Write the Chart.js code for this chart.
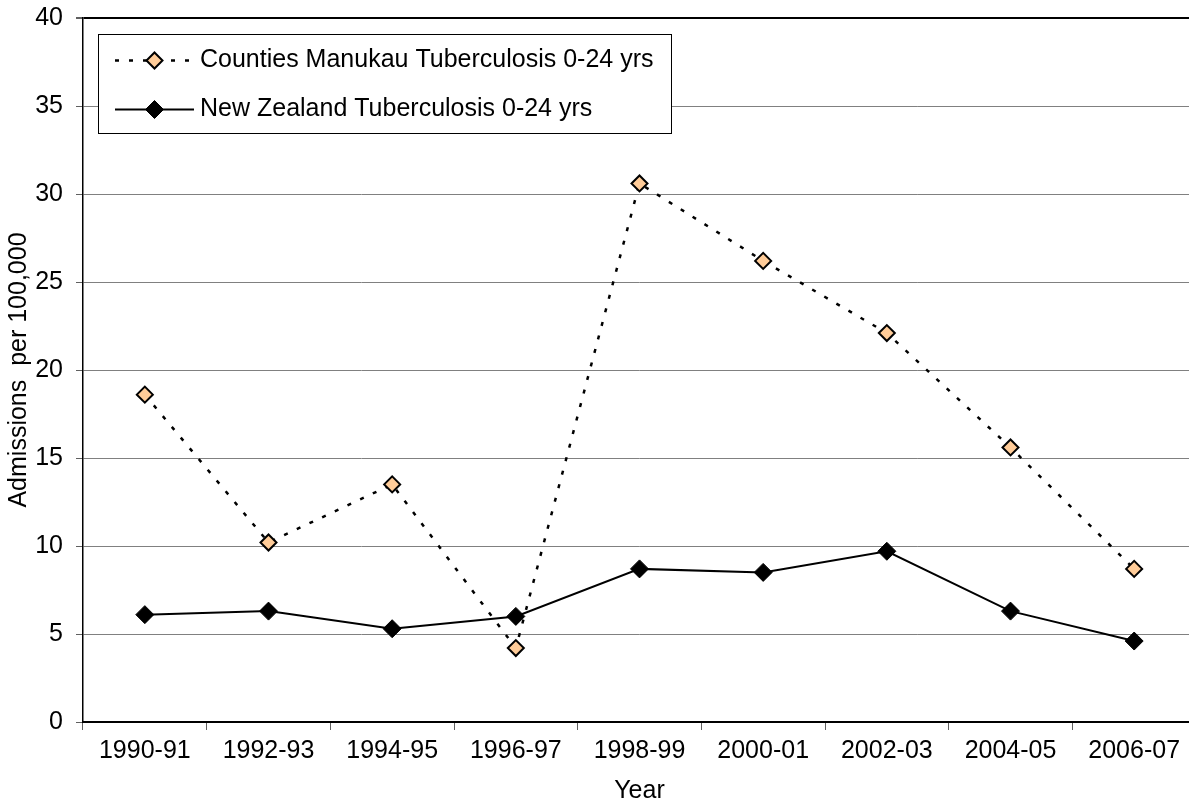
<!DOCTYPE html>
<html>
<head>
<meta charset="utf-8">
<script src="https://cdn.jsdelivr.net/npm/chart.js@4/dist/chart.umd.min.js"></script>
<style>
html, body { margin: 0; padding: 0; overflow: hidden; background: #fff; width: 1189px; height: 802px; }
#wrap { position: absolute; left: 0; top: 0; width: 1200px; height: 810px; }
</style>
</head>
<body>
<div id="wrap"><canvas id="c" width="1200" height="810"></canvas></div>
<script>
const categories = ['1990-91', '1992-93', '1994-95', '1996-97', '1998-99', '2000-01', '2002-03', '2004-05', '2006-07'];
const countiesManukau = [18.6, 10.2, 13.5, 4.2, 30.6, 26.2, 22.1, 15.6, 8.7];
const newZealand = [6.1, 6.3, 5.3, 6.0, 8.7, 8.5, 9.7, 6.3, 4.6];
const seriesNames = ['Counties Manukau Tuberculosis 0-24 yrs', 'New Zealand Tuberculosis 0-24 yrs'];
const yMin = 0, yMax = 40, yStep = 5;
const xTitle = 'Year';
const yTitle = 'Admissions  per 100,000';

const FONT = "'Liberation Sans', Arial, sans-serif";

function drawDiamond(ctx, x, y, r, fill, stroke, bw) {
  ctx.beginPath();
  ctx.moveTo(x, y - r);
  ctx.lineTo(x + r, y);
  ctx.lineTo(x, y + r);
  ctx.lineTo(x - r, y);
  ctx.closePath();
  ctx.fillStyle = fill;
  ctx.fill();
  if (bw > 0) { ctx.lineWidth = bw; ctx.strokeStyle = stroke; ctx.stroke(); }
}

const boxLegend = {
  id: 'boxLegend',
  afterDatasetsDraw(chart, args, o) {
    const ctx = chart.ctx;
    ctx.save();
    ctx.fillStyle = '#ffffff';
    ctx.fillRect(o.x, o.y, o.w, o.h);
    ctx.lineWidth = 1;
    ctx.strokeStyle = '#000000';
    ctx.strokeRect(o.x + 0.5, o.y + 0.5, o.w, o.h);
    chart.data.datasets.forEach((ds, i) => {
      const cy = o.y + o.firstRow + i * o.rowGap;
      ctx.beginPath();
      ctx.setLineDash(ds.borderDash || []);
      ctx.lineWidth = ds.borderWidth;
      ctx.strokeStyle = ds.borderColor;
      ctx.moveTo(o.lineX1, cy);
      ctx.lineTo(o.lineX2, cy);
      ctx.stroke();
      ctx.setLineDash([]);
      drawDiamond(ctx, (o.lineX1 + o.lineX2) / 2, cy, ds.pointRadius, ds.pointBackgroundColor, ds.pointBorderColor, ds.pointBorderWidth);
      ctx.fillStyle = '#000';
      ctx.font = '25px ' + FONT;
      ctx.textBaseline = 'middle';
      ctx.textAlign = 'left';
      ctx.fillText(ds.label, o.textX, cy);
    });
    ctx.restore();
  }
};

new Chart(document.getElementById('c'), {
  type: 'line',
  data: {
    labels: categories,
    datasets: [
      {
        label: seriesNames[0],
        data: countiesManukau,
        borderColor: '#000000',
        borderWidth: 2.5,
        borderDash: [4, 10],
        pointStyle: 'rectRot',
        pointRadius: 8,
        pointBackgroundColor: '#FFCC99',
        pointBorderColor: '#000000',
        pointBorderWidth: 2,
        pointHoverRadius: 8,
        tension: 0,
        fill: false
      },
      {
        label: seriesNames[1],
        data: newZealand,
        borderColor: '#000000',
        borderWidth: 2,
        pointStyle: 'rectRot',
        pointRadius: 9,
        pointBackgroundColor: '#000000',
        pointBorderColor: '#000000',
        pointBorderWidth: 1,
        pointHoverRadius: 9,
        tension: 0,
        fill: false
      }
    ]
  },
  options: {
    responsive: false,
    animation: false,
    devicePixelRatio: 1,
    layout: { autoPadding: false, padding: { top: 18, right: 4, bottom: 0, left: 0 } },
    plugins: {
      legend: { display: false },
      tooltip: { enabled: false },
      boxLegend: { x: 98, y: 34, w: 573, h: 99, firstRow: 26.5, rowGap: 49, lineX1: 115, lineX2: 194, textX: 200 }
    },
    scales: {
      x: {
        offset: true,
        grid: {
          offset: true,
          drawOnChartArea: false,
          drawTicks: true,
          tickLength: 8,
          tickColor: '#606060',
          tickWidth: 1
        },
        border: { display: true, color: '#000000', width: 2 },
        ticks: {
          color: '#000000',
          font: { family: FONT, size: 25, lineHeight: 1.2 },
          padding: 6,
          maxRotation: 0,
          autoSkip: false
        },
        title: {
          display: true,
          text: xTitle,
          color: '#000000',
          font: { family: FONT, size: 25, lineHeight: 1.2 },
          padding: { top: 0, bottom: 4 }
        },
        afterFit(scale) {
          scale.height = 88;
          scale.paddingLeft = 0; scale.paddingRight = 0;
        }
      },
      y: {
        min: yMin,
        max: yMax,
        ticks: {
          stepSize: yStep,
          color: '#000000',
          font: { family: FONT, size: 25, lineHeight: 1.2 },
          padding: 13
        },
        grid: {
          color: (c) => (c.tick && c.tick.value === yMax) ? '#000000' : '#808080',
          lineWidth: (c) => (c.tick && c.tick.value === yMax) ? 2 : 1,
          tickLength: 7,
          tickColor: '#606060',
          drawTicks: true
        },
        border: { display: true, color: '#000000', width: 1.5 },
        title: {
          display: true,
          text: yTitle,
          color: '#000000',
          font: { family: FONT, size: 25, lineHeight: 1.2 },
          padding: { top: 4, bottom: 0 }
        },
        afterFit(scale) {
          scale.width = 83;
          scale.paddingTop = 0; scale.paddingBottom = 0;
        }
      }
    }
  },
  plugins: [boxLegend]
});
</script>
</body>
</html>
